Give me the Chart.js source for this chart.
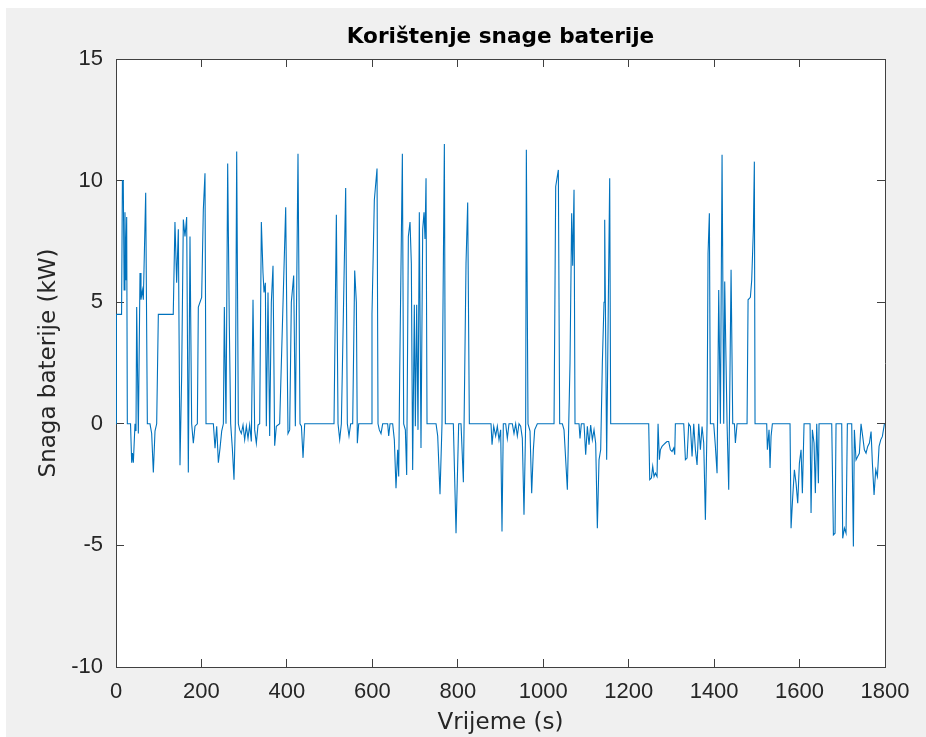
<!DOCTYPE html>
<html>
<head>
<meta charset="utf-8">
<script src="https://cdn.jsdelivr.net/npm/chart.js@4"></script>
<style>
  html, body { margin: 0; padding: 0; background: #fff; }
  #frame { position: absolute; left: 6px; top: 8px; right: 0; bottom: 0; background: #f0f0f0; }
  #chart { position: absolute; left: 0; top: 0; }
</style>
</head>
<body>
<div id="frame"></div>
<canvas id="chart" width="926" height="737"></canvas>
<script>
const titleText = 'Korištenje snage baterije';
const xTitle = 'Vrijeme (s)';
const yTitle = 'Snaga baterije (kW)';

// time in seconds
const timeS = [
  0, 1, 13, 15, 17, 19, 21, 23, 25, 26.5, 34, 36.7, 38.5, 40.6, 44.5, 46.8, 48.4, 52.3, 56.2, 58.5,
  61.7, 64, 69.5, 73.4, 79.6, 83.5, 87.4, 91.3, 95.2, 99.1, 134, 138, 142, 145.9, 149.8, 153.7, 157.6, 161.5, 165.4, 169.3,
  173.2, 177.1, 181, 184.9, 190.4, 192.7, 200.5, 204.4, 208.3, 210.7, 227.9, 231.8, 235.7, 239.6, 243.5, 247.4, 251.3, 253.6, 257.5, 261.4,
  265.3, 268.4, 272.3, 276.2, 279.3, 282.5, 286.4, 289.5, 293.4, 297.3, 301.2, 305.1, 309, 312.9, 316.8, 320.7, 324.6, 328.5, 332.4, 336.3,
  340.2, 344.1, 346.5, 349.6, 351.9, 355.8, 359.7, 363.6, 367.5, 371.4, 375.3, 383.1, 397.2, 402.6, 406.5, 410.4, 415.9, 419.8, 426, 430.7,
  434, 437.8, 441.7, 510.3, 515.8, 519.7, 523.6, 527.5, 532.2, 537.6, 541.5, 545.4, 549.3, 554, 558.7, 562.6, 564.9, 568.1, 597, 599.2,
  604.7, 611, 613.3, 616.4, 620.3, 624.2, 635.9, 638.3, 641.4, 647.6, 651.5, 655.4, 659.3, 661.7, 664, 670.3, 673.4, 677.3, 680.4, 684.3,
  688.2, 691.3, 694.4, 698.3, 700.7, 703.8, 706.9, 710, 713.9, 717.9, 721, 723.3, 725.7, 728, 749.1, 753, 758.4, 763.1, 768.6, 770.9,
  789.6, 795.9, 802.1, 807.6, 813.1, 819.3, 823.2, 827.1, 877.8, 880.2, 884.1, 888.7, 892.6, 896.5, 900.4, 903.5, 906.6, 912.1, 916, 919.9,
  927.7, 931.6, 935.5, 939.4, 943.3, 947.2, 951.1, 955, 958.9, 960.5, 964.4, 969.1, 973, 976.9, 980, 986.2, 1025.3, 1029.2, 1035.4, 1038.5,
  1044.8, 1048.7, 1056.5, 1062.7, 1066.6, 1069, 1072.1, 1074.4, 1083.8, 1086.1, 1089.2, 1095.5, 1099.4, 1103.3, 1107.2, 1111.1, 1115, 1118.9, 1122.8, 1126.7,
  1130.6, 1134.5, 1138.4, 1142.3, 1143.9, 1148.5, 1152.4, 1155.6, 1157.9, 1246.9, 1249.3, 1253.2, 1256.3, 1259.4, 1262.5, 1266.4, 1268.8, 1271.9, 1274.2, 1278.1,
  1282, 1285.9, 1289.8, 1293.7, 1297.6, 1301.5, 1305.5, 1307.8, 1309.3, 1328.9, 1332.8, 1336.7, 1340.6, 1344.5, 1348.4, 1352.3, 1356.2, 1360.1, 1364, 1367.9,
  1371.8, 1375.7, 1379.6, 1383.5, 1385.8, 1388.9, 1391.3, 1399.1, 1403, 1406.9, 1410.8, 1414.7, 1418.6, 1422.5, 1424.8, 1430.3, 1434.2, 1439.7, 1443.6, 1447.5,
  1449.8, 1453.7, 1477.1, 1479.5, 1484.9, 1488, 1491.9, 1494.2, 1495.8, 1523.1, 1524.7, 1528.6, 1530.9, 1533.3, 1536.4, 1577.7, 1580.1, 1584, 1587.9, 1591.8,
  1595.7, 1599.6, 1603.5, 1606.6, 1610.5, 1624.6, 1626.9, 1630, 1633.9, 1637, 1640.2, 1644.1, 1645.6, 1675.3, 1679.2, 1683.1, 1685.4, 1698.7, 1701, 1704.9,
  1708.8, 1711.9, 1722.1, 1726, 1728.3, 1732.2, 1736.1, 1740, 1743.9, 1747.8, 1751.7, 1755.6, 1759.5, 1763.5, 1767.4, 1770.5, 1774.4, 1778.3, 1782.2, 1786.1,
  1790, 1793.9, 1798.6
];

// battery power in kW
const powerKW = [
  0, 4.5, 4.5, 10, 10, 5.5, 8.7, 5.9, 8.5, 0, 0, -1.6, -1.2, -1.6, 0, -0.3, 4.8, -0.4, 6.2, 5.1,
  5.5, 5.1, 9.5, 0, 0, -0.4, -2.0, -0.3, 0, 4.5, 4.5, 8.3, 5.8, 8.0, -1.7, 2.0, 8.4, 7.7, 8.5, -2.0,
  7.7, 0, -0.8, -0.1, 0, 4.8, 5.2, 8.8, 10.3, 0, 0, -1.0, -0.1, -1.6, -1.0, -0.3, 0, 4.8, 0, 10.7,
  4.0, 0, -1.0, -2.3, 0, 11.2, 0, -0.25, -0.4, -0.05, -0.66, -0.1, -0.6, -0.05, -0.73, 5.1, -0.25, -0.8, -0.05, 0,
  8.3, 6.2, 5.4, 5.8, -0.1, 5.4, -0.5, 5.0, 6.5, -0.9, -0.1, 0, 8.9, -0.4, -0.25, 5.0, 6.1, -0.1, 11.1, 0,
  -0.1, -1.4, 0, 0, 8.6, 0, -0.65, 0, 4.5, 9.7, 0, -0.5, 0, 0, 6.3, 5.0, -0.8, 0, 0, 4.5,
  9.2, 10.5, 0, -0.25, -0.4, 0, 0, -0.5, 0, 0, -0.66, -2.65, -1.07, -2.17, 2.0, 11.1, 0, -0.25, -2.1, 7.7,
  8.3, 6.6, -1.9, 4.9, -0.1, 4.9, -0.25, 8.7, -1.0, 8.0, 8.7, 7.6, 10.1, 0, 0, -0.5, -2.9, 0, 11.5, 0,
  0, -4.5, 0, 0, -2.4, 6.6, 9.1, 0, 0, -0.86, -0.1, -0.5, -0.1, -0.66, -0.25, -4.43, 0, 0, -0.6, 0,
  0, -0.4, 0, -0.5, 0, -0.1, -0.6, -3.74, 0, 11.27, 0, -0.3, -2.85, -1.07, -0.25, 0, 0, 9.76, 10.44, 0,
  0, -0.25, -2.71, 2.5, 8.66, 6.5, 9.62, 0, 0, -0.6, 0, 0, -1.27, -0.1, -0.86, -0.05, -0.66, -0.25, -0.8, -4.29,
  -1.48, -1.07, 2.5, 5.0, 8.39, -1.48, 5.0, 10.1, 0, 0, -2.3, -2.23, -1.75, -2.17, -2.03, -2.17, 0, -1.48, -1.07, -0.93,
  -0.86, -0.79, -0.73, -0.73, -1.07, -1.14, -1.0, -1.27, 0, 0, -1.48, -1.41, 0, -0.11, -1.34, 0, -1.07, -1.69, 0, -1.07,
  -0.11, -0.79, -3.95, 0, 7.0, 8.66, 0, 0, -0.93, -2.03, 5.5, 0, 11.06, 0, 5.85, 0, -2.71, 6.33, 0, 0,
  -0.79, 0, 0, 5.1, 5.2, 5.9, 8.0, 10.78, 0, 0, -1.07, -0.25, -1.82, -0.52, 0, 0, -4.29, -3.0, -1.89, -2.44,
  -3.27, -1.62, -1.07, -2.85, 0, 0, -3.67, -0.25, -0.79, -2.85, 0, -2.44, 0, 0, -4.57, -4.5, 0, 0, -4.71, -4.29,
  -4.5, 0, 0, -5.05, -0.25, -1.48, -1.34, -1.21, 0, -0.52, -1.07, -1.21, -0.93, -0.79, -0.32, -1.62, -2.93, -1.89, -2.17, -0.93,
  -0.66, -0.52, 0
];

const xMin = 0, xMax = 1800, xStep = 200;
const yMin = -10, yMax = 15, yStep = 5;

const axisColor = '#404040';
const textColor = '#262626';
const tickFont = { family: "'Liberation Sans', Arial, sans-serif", size: 22 };
const labelFont = { family: "'DejaVu Sans', sans-serif", size: 23 };

const points = timeS.map((t, i) => ({ x: t, y: powerKW[i] }));

// white plot box behind the data
const plotBackground = {
  id: 'plotBackground',
  beforeDraw(chart) {
    const { ctx, chartArea: a } = chart;
    ctx.save();
    ctx.fillStyle = '#ffffff';
    ctx.fillRect(a.left, a.top, a.right - a.left, a.bottom - a.top);
    ctx.restore();
  }
};

// MATLAB style: ticks point inwards on all four sides, no grid
const innerGrid = { drawOnChartArea: false, drawTicks: true, tickLength: -8, color: axisColor, lineWidth: 1 };
const border = { display: true, color: axisColor, width: 1 };

const ctx = document.getElementById('chart').getContext('2d');

new Chart(ctx, {
  type: 'line',
  data: {
    datasets: [{
      data: points,
      borderColor: '#0072BD',
      borderWidth: 1.1,
      pointRadius: 0,
      tension: 0,
      fill: false
    }]
  },
  options: {
    responsive: false,
    animation: false,
    devicePixelRatio: 1,
    layout: { padding: { left: 0, right: 41, top: 0, bottom: 0 } },
    plugins: {
      legend: { display: false },
      tooltip: { enabled: false },
      title: { display: false }
    },
    scales: {
      x: {
        type: 'linear',
        position: 'bottom',
        min: xMin, max: xMax,
        grid: innerGrid,
        border: border,
        ticks: {
          stepSize: xStep, color: textColor, font: tickFont, padding: 20, maxRotation: 0,
          callback: (v) => String(v)
        },
        title: { display: true, text: xTitle, color: textColor, font: labelFont, padding: { top: 0, bottom: 0 } },
        afterFit(scale) {
          scale.height = 70;
          scale.paddingLeft = 0;
          scale.paddingRight = 0;
        }
      },
      y: {
        type: 'linear',
        position: 'left',
        min: yMin, max: yMax,
        grid: innerGrid,
        border: border,
        ticks: { stepSize: yStep, color: textColor, font: tickFont, padding: 21 },
        title: { display: true, text: yTitle, color: textColor, font: labelFont, padding: { top: 35, bottom: 0 } },
        afterFit(scale) { scale.width = 116; }
      },
      x2: {
        type: 'linear',
        position: 'top',
        min: xMin, max: xMax,
        grid: innerGrid,
        border: border,
        ticks: { stepSize: xStep, display: false },
        title: {
          display: true,
          text: titleText,
          color: '#000',
          font: { family: "'DejaVu Sans', sans-serif", size: 21.6, weight: 'bold' },
          padding: { top: 24.5, bottom: 0 }
        },
        afterFit(scale) {
          scale.height = 59;
          scale.paddingLeft = 0;
          scale.paddingRight = 0;
        }
      },
      y2: {
        type: 'linear',
        position: 'right',
        min: yMin, max: yMax,
        grid: innerGrid,
        border: border,
        ticks: { stepSize: yStep, display: false },
        afterFit(scale) { scale.width = 0; }
      }
    }
  },
  plugins: [plotBackground]
});
</script>
</body>
</html>
